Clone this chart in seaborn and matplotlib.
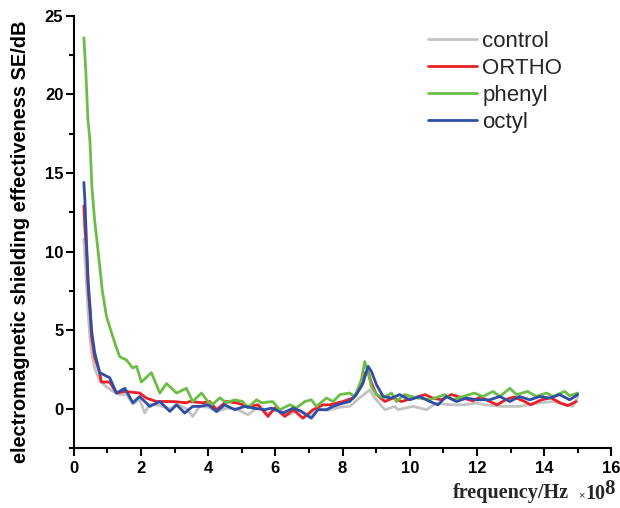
import matplotlib
matplotlib.use("Agg")
import matplotlib.pyplot as plt
import seaborn as sns
from matplotlib.ticker import MultipleLocator

# frequency in units of 1e8 Hz, SE in dB
control_x = [0.30, 0.36, 0.43, 0.48, 0.53, 0.62, 0.77, 0.97, 1.17, 1.37,
             1.57, 1.76, 1.96, 2.11, 2.26, 2.56, 2.86, 3.06, 3.35, 3.54,
             3.75, 4.00, 4.25, 4.54, 4.84, 5.18, 5.49, 5.78, 6.08, 6.38,
             6.68, 6.98, 7.27, 7.57, 7.92, 8.21, 8.50, 8.81, 8.95, 9.26,
             9.55, 9.65, 10.10, 10.50, 10.79, 11.19, 11.59, 11.99, 12.23, 12.73,
             13.27, 13.81, 14.26, 14.85, 15.00]
control_y = [10.8, 8.5, 6.0, 4.5, 3.6, 2.6, 1.8, 1.4, 1.1, 0.9,
             0.9, 0.3, 0.6, -0.27, 0.3, 0.2, 0.0, 0.3, 0.0, -0.49,
             0.15, 0.1, -0.2, 0.04, 0.0, -0.38, 0.1, -0.3, 0.0, -0.4,
             -0.1, -0.5, 0.0, -0.1, 0.1, 0.15, 0.68, 1.2, 0.7, -0.06,
             0.15, -0.06, 0.15, -0.06, 0.36, 0.25, 0.25, 0.36, 0.25, 0.15,
             0.15, 0.36, 0.46, 0.15, 0.78]

ortho_x = [0.30, 0.33, 0.38, 0.43, 0.48, 0.53, 0.62, 0.77, 0.82, 1.07,
           1.27, 1.52, 1.96, 2.16, 2.46, 2.96, 3.35, 3.45, 3.85, 4.05,
           4.25, 4.54, 4.84, 5.19, 5.49, 5.78, 5.98, 6.28, 6.53, 6.82,
           7.12, 7.42, 7.62, 7.86, 8.01, 8.31, 8.56, 8.66, 8.76, 8.86,
           9.01, 9.26, 9.50, 9.75, 10.10, 10.45, 10.69, 10.94, 11.24, 11.59,
           11.88, 12.10, 12.38, 12.60, 12.88, 13.10, 13.42, 13.60, 13.92, 14.20,
           14.49, 14.70, 14.96]
ortho_y = [12.9, 11.5, 10.1, 7.6, 6.3, 4.6, 3.3, 2.3, 1.7, 1.7,
           1.0, 1.1, 1.0, 0.68, 0.46, 0.46, 0.38, 0.46, 0.38, 0.46,
           -0.06, 0.46, 0.38, 0.15, 0.25, -0.49, 0.06, -0.49, -0.06, -0.6,
           -0.06, 0.25, 0.25, 0.38, 0.46, 0.68, 1.42, 2.27, 2.37, 1.63,
           0.9, 0.46, 0.68, 0.46, 0.68, 0.9, 0.68, 0.57, 0.9, 0.68,
           0.5, 0.75, 0.46, 0.25, 0.6, 0.75, 0.46, 0.25, 0.57, 0.7,
           0.36, 0.2, 0.46]

phenyl_x = [0.30, 0.36, 0.42, 0.48, 0.54, 0.62, 0.72, 0.85, 0.97, 1.10,
            1.25, 1.37, 1.57, 1.75, 1.87, 2.01, 2.31, 2.56, 2.76, 3.06,
            3.35, 3.54, 3.80, 3.99, 4.14, 4.35, 4.54, 4.79, 5.03, 5.18,
            5.44, 5.59, 5.92, 6.13, 6.43, 6.63, 6.88, 7.07, 7.22, 7.52,
            7.72, 7.92, 8.21, 8.36, 8.56, 8.66, 8.76, 8.86, 9.01, 9.21,
            9.46, 9.60, 9.85, 10.20, 10.60, 11.04, 11.28, 11.58, 11.93, 12.17,
            12.48, 12.68, 12.98, 13.18, 13.51, 13.77, 14.07, 14.26, 14.61, 14.76,
            15.00]
phenyl_y = [23.6, 21.4, 18.4, 17.1, 14.1, 12.0, 10.1, 7.5, 5.9, 5.0,
            4.0, 3.3, 3.1, 2.6, 2.7, 1.7, 2.3, 1.0, 1.6, 1.0,
            1.3, 0.46, 1.0, 0.46, 0.3, 0.7, 0.38, 0.57, 0.46, 0.06,
            0.57, 0.38, 0.46, -0.06, 0.25, 0.06, 0.46, 0.57, 0.15, 0.68,
            0.46, 0.9, 1.0, 0.76, 1.84, 3.0, 2.3, 1.4, 0.9, 0.7,
            1.0, 0.46, 0.9, 0.7, 0.57, 0.9, 0.57, 0.78, 1.0, 0.78,
            1.1, 0.78, 1.3, 0.9, 1.1, 0.78, 1.0, 0.78, 1.1, 0.83,
            1.0]

octyl_x = [0.30, 0.33, 0.38, 0.43, 0.48, 0.53, 0.62, 0.77, 1.07, 1.27,
           1.52, 1.76, 1.96, 2.26, 2.56, 2.86, 3.06, 3.30, 3.54, 3.75,
           4.00, 4.25, 4.49, 4.79, 5.09, 5.34, 5.68, 5.88, 6.23, 6.53,
           6.78, 7.07, 7.27, 7.52, 7.72, 7.92, 8.21, 8.41, 8.61, 8.76,
           8.86, 9.01, 9.21, 9.46, 9.70, 10.00, 10.30, 10.60, 10.84, 11.09,
           11.39, 11.69, 11.99, 12.38, 12.68, 12.98, 13.27, 13.57, 13.87, 14.17,
           14.46, 14.76, 15.00]
octyl_y = [14.4, 13.3, 10.5, 8.0, 6.6, 5.0, 3.6, 2.3, 1.97, 1.0,
           1.3, 0.38, 0.78, 0.15, 0.46, -0.17, 0.25, -0.27, 0.15, 0.15,
           0.25, -0.17, 0.25, -0.06, 0.15, 0.04, -0.06, 0.04, -0.27, 0.04,
           -0.17, -0.6, -0.06, -0.06, 0.15, 0.3, 0.46, 0.9, 1.63, 2.7,
           2.37, 1.53, 0.78, 0.68, 0.9, 0.57, 0.78, 0.46, 0.25, 0.78,
           0.46, 0.68, 0.57, 0.57, 0.78, 0.46, 0.78, 0.57, 0.78, 0.68,
           0.9, 0.57, 0.9]

labels = ["control", "ORTHO", "phenyl", "octyl"]
colors = ["#c3c3c3", "#ea1f27", "#6cbd45", "#2f4fa6"]

sns.set_theme(style="ticks")
plt.rcParams["font.family"] = ["Liberation Sans", "DejaVu Sans"]
plt.rcParams["font.weight"] = "bold"

fig = plt.figure(figsize=(6.2, 5.08), dpi=100)
ax = fig.add_axes([0.119, 0.118, 0.867, 0.851])

series = [(control_x, control_y), (ortho_x, ortho_y), (phenyl_x, phenyl_y), (octyl_x, octyl_y)]
for (xs, ys), lab, col in zip(series, labels, colors):
    sns.lineplot(x=xs, y=ys, color=col, lw=2.0, label=lab, ax=ax, estimator=None, sort=False)

ax.set_xlim(0, 16)
ax.set_ylim(-2.5, 25)
ax.xaxis.set_major_locator(MultipleLocator(2))
ax.xaxis.set_minor_locator(MultipleLocator(1))
ax.yaxis.set_major_locator(MultipleLocator(5))
ax.yaxis.set_minor_locator(MultipleLocator(2.5))
sns.despine(ax=ax)
for s in ["left", "bottom"]:
    ax.spines[s].set_linewidth(1.5)
    ax.spines[s].set_color("black")
ax.tick_params(which="major", length=5.5, width=1.5, color="black",
               labelsize=12, labelcolor="black")
ax.tick_params(which="minor", length=3.5, width=1.5, color="black")
ax.tick_params(axis="y", pad=2)
ax.tick_params(axis="x", pad=4)

ax.set_xlabel("")
ax.set_ylabel("electromagnetic shielding effectiveness SE/dB", fontsize=14.4,
              fontweight="bold", color="black")
ax.yaxis.set_label_coords(-0.081, 0.477)

fig.text(453 / 620, 1 - 498 / 508, "frequency/Hz", family="Liberation Serif",
         fontweight="bold", fontsize=14.5, ha="left", va="baseline")
fig.text(578 / 620, 1 - 498 / 508, "\u00d7", family="Liberation Sans",
         fontweight="normal", fontsize=8, ha="left", va="baseline", color="#333333")
fig.text(585 / 620, 1 - 499 / 508, "10", family="Liberation Serif",
         fontweight="bold", fontsize=14.5, ha="left", va="baseline")
fig.text(604 / 620, 1 - 494 / 508, "8", family="Liberation Serif",
         fontweight="bold", fontsize=15, ha="left", va="baseline")

ax.legend(loc="upper left", bbox_to_anchor=(428 / 620, 1 - 31 / 508),
          bbox_transform=fig.transFigure, frameon=False,
          prop={"size": 16, "weight": "normal"},
          handlelength=2.2, handletextpad=0.25, labelspacing=0.27,
          borderpad=0, borderaxespad=0)

fig.savefig("out.png", dpi=100)
